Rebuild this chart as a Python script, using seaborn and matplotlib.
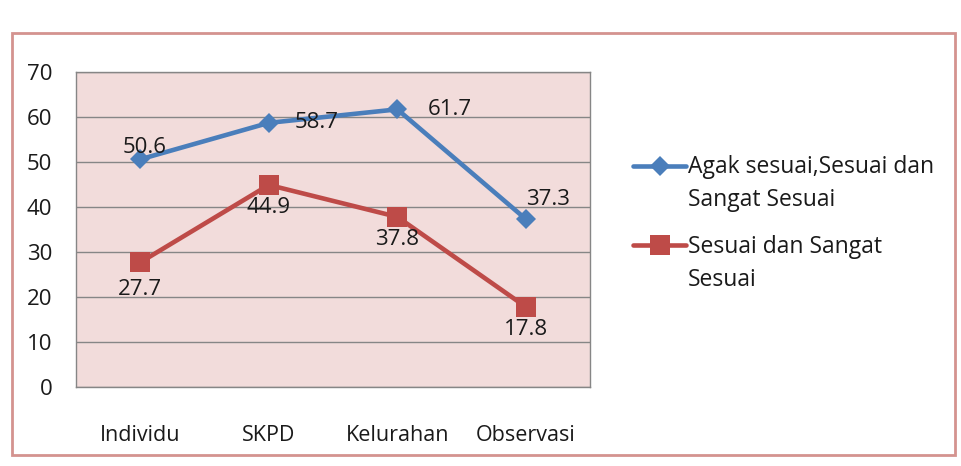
import pandas as pd
import seaborn as sns
import matplotlib.pyplot as plt
from matplotlib.patches import Rectangle
from matplotlib.lines import Line2D

# --- dados ---
kategori = ["Individu", "SKPD", "Kelurahan", "Observasi"]
seri_1 = "Agak sesuai,Sesuai dan\nSangat Sesuai"
seri_2 = "Sesuai dan Sangat\nSesuai"
nilai_1 = [50.6, 58.7, 61.7, 37.3]
nilai_2 = [27.7, 44.9, 37.8, 17.8]
yticks = [0, 10, 20, 30, 40, 50, 60, 70]

df = pd.DataFrame({
    "Kategori": kategori * 2,
    "Nilai": nilai_1 + nilai_2,
    "Seri": [seri_1] * 4 + [seri_2] * 4,
})

sns.set_style("white")
plt.rcParams["font.family"] = ["Open Sans", "DejaVu Sans"]

biru = "#4a7ebb"
merah = "#be4b48"
teks = "#1a1a1a"
fs = 16

fig = plt.figure(figsize=(9.61, 4.66), dpi=100)
ax = fig.add_axes([0.0791, 0.1695, 0.535, 0.676])

# bingkai luar
fig.patches.append(Rectangle((12 / 961, 1 - 455 / 466), 943 / 961, 422 / 466,
                             transform=fig.transFigure, fill=False,
                             edgecolor="#d4938f", linewidth=2))

ax.set_facecolor("#f2dcdb")
sns.lineplot(data=df, x="Kategori", y="Nilai", hue="Seri", style="Seri",
             markers={seri_1: "D", seri_2: "s"}, dashes=False,
             palette={seri_1: biru, seri_2: merah}, linewidth=3.3,
             markersize=10, markeredgewidth=0, sort=False, ax=ax, zorder=3)
for line in ax.lines:
    if line.get_marker() == "D":
        line.set_markersize(10.5)
    elif line.get_marker() == "s":
        line.set_markersize(14)

ax.set_xlim(-0.5, 3.5)
ax.set_ylim(0, 70)
ax.set_yticks(yticks)
ax.yaxis.grid(True, color="#868686", linewidth=1)
ax.set_axisbelow(True)
for s in ax.spines.values():
    s.set_color("#868686")
    s.set_linewidth(1)
ax.tick_params(axis="y", length=0, pad=17, labelsize=fs, labelcolor=teks)
ax.tick_params(axis="x", length=0, pad=27, labelsize=fs - 0.5, labelcolor=teks)
ax.set_xlabel("")
ax.set_ylabel("")

# label nilai (geser dalam piksel)
geser_1 = [(4, 12), (48, 0), (52, 0), (22, 20)]
geser_2 = [(0, -27), (0, -23), (0, -23), (0, -23)]
for seri, geser in ((nilai_1, geser_1), (nilai_2, geser_2)):
    for i, v in enumerate(seri):
        dx, dy = geser[i]
        ax.annotate(f"{v}", (i, v), xytext=(dx * 0.72, dy * 0.72),
                    textcoords="offset points", ha="center", va="center",
                    fontsize=fs, color=teks)

leg = ax.legend(loc="upper left", bbox_to_anchor=(1.0837, 0.735), frameon=False,
                fontsize=fs + 0.5, handlelength=2.3, labelspacing=1.0,
                handletextpad=0.1, borderpad=0, borderaxespad=0)
for t in leg.get_texts():
    t.set_color(teks)
    t.set_linespacing(1.5)
# geser simbol legenda ke baris pertama
for obj in leg.findobj(Line2D):
    if obj.get_marker() == "D":
        obj.set_markersize(10.5)
    elif obj.get_marker() == "s":
        obj.set_markersize(14)
    obj.set_linewidth(3.3)
    obj.set_ydata([y + 14 for y in obj.get_ydata()])

plt.savefig("out.png", dpi=100)
